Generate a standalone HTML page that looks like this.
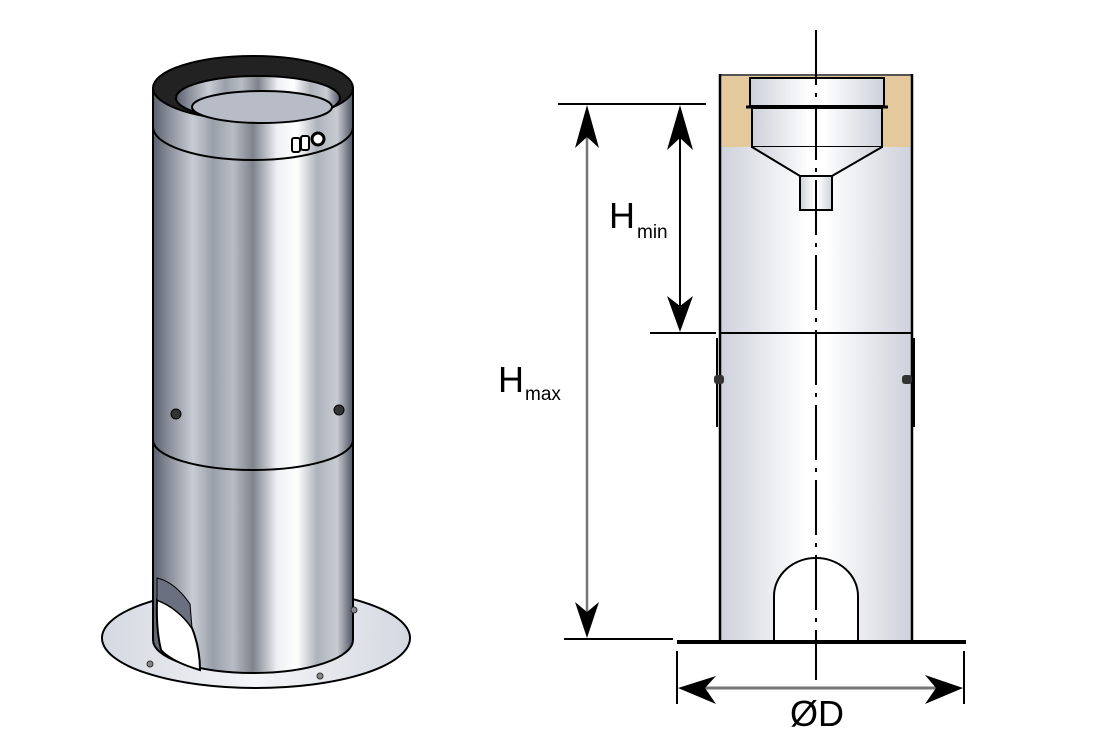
<!DOCTYPE html>
<html><head><meta charset="utf-8"><style>
html,body{margin:0;padding:0;background:#fff}
svg{display:block}
text{font-family:"Liberation Sans",sans-serif;fill:#000}
</style></head><body>
<svg width="1100" height="750" viewBox="0 0 1100 750" xmlns="http://www.w3.org/2000/svg">
<defs>
<linearGradient id="steel" x1="0" x2="1" y1="0" y2="0">
<stop offset="0" stop-color="#5a606e"/>
<stop offset="0.08" stop-color="#8a8f9a"/>
<stop offset="0.2" stop-color="#c8ccd4"/>
<stop offset="0.3" stop-color="#9aa0aa"/>
<stop offset="0.4" stop-color="#b8bcc4"/>
<stop offset="0.5" stop-color="#7e838c"/>
<stop offset="0.62" stop-color="#eef0f4"/>
<stop offset="0.72" stop-color="#ffffff"/>
<stop offset="0.82" stop-color="#aeb3bc"/>
<stop offset="0.92" stop-color="#c8ccd2"/>
<stop offset="1" stop-color="#4e5462"/>
</linearGradient>
<linearGradient id="pale" x1="0" x2="1" y1="0" y2="0">
<stop offset="0" stop-color="#cdd1da"/>
<stop offset="0.45" stop-color="#ffffff"/>
<stop offset="0.55" stop-color="#ffffff"/>
<stop offset="1" stop-color="#cdd1da"/>
</linearGradient>
<linearGradient id="flange" x1="0" x2="1" y1="0" y2="0">
<stop offset="0" stop-color="#d4d8e0"/><stop offset="0.5" stop-color="#f4f5f8"/><stop offset="1" stop-color="#d4d8e0"/>
</linearGradient>
</defs>

<!-- LEFT: 3D render -->
<ellipse cx="256" cy="638" rx="154" ry="50" fill="url(#flange)" stroke="#000" stroke-width="2"/>
<path d="M153 88 L153 640 A100 33 0 0 0 353 640 L353 88 Z" fill="url(#steel)" stroke="#000" stroke-width="2"/>
<!-- opening -->
<path d="M157 600 Q178 608 192 628 Q200 648 200 670 Q172 662 161 650 Q156 630 157 600 Z" fill="#fff" stroke="#000" stroke-width="2"/>
<path d="M157 600 Q178 608 192 628 L190 604 Q175 582 157 578 Z" fill="#6a7080" stroke="#000" stroke-width="1"/>
<!-- sleeve lower edge -->
<path d="M153 440 A100 30 0 0 0 353 440" fill="none" stroke="#000" stroke-width="2"/>
<!-- band line -->
<path d="M153 127 A100 33 0 0 0 353 127" fill="none" stroke="#000" stroke-width="2"/>
<!-- top -->
<ellipse cx="253" cy="88" rx="100" ry="32" fill="#222" stroke="#000" stroke-width="2"/>
<ellipse cx="258" cy="98" rx="82" ry="22" fill="url(#steel)" stroke="#000" stroke-width="2"/>
<ellipse cx="262" cy="107" rx="70" ry="16" fill="#b7bcc6" stroke="#000" stroke-width="2"/>
<!-- clip -->
<rect x="292" y="138" width="8" height="14" rx="2" fill="#fff" stroke="#000" stroke-width="2"/>
<rect x="301" y="136" width="8" height="14" rx="2" fill="#fff" stroke="#000" stroke-width="2"/>
<circle cx="318" cy="139" r="6" fill="#fff" stroke="#000" stroke-width="3"/>
<!-- screws -->
<circle cx="176" cy="414" r="5" fill="#333" stroke="#000"/>
<circle cx="339" cy="410" r="5" fill="#333" stroke="#000"/>
<circle cx="150" cy="664" r="3" fill="#888" stroke="#333"/>
<circle cx="320" cy="676" r="3" fill="#888" stroke="#333"/>
<circle cx="354" cy="610" r="3" fill="#888" stroke="#333"/>

<!-- RIGHT: section -->
<rect x="720" y="147" width="192" height="494" fill="url(#pale)"/>
<rect x="720" y="74" width="192" height="73" fill="#e4c99c"/>
<rect x="750" y="78" width="134" height="28" fill="url(#pale)" stroke="#000" stroke-width="2"/>
<rect x="752" y="108" width="130" height="39" fill="url(#pale)" stroke="#000" stroke-width="2"/>
<line x1="746" y1="107" x2="888" y2="107" stroke="#000" stroke-width="3"/>
<path d="M752 147 L800 176 L832 176 L882 147" fill="url(#pale)" stroke="#000" stroke-width="2"/>
<rect x="800" y="176" width="32" height="34" fill="url(#pale)" stroke="#000" stroke-width="2"/>
<line x1="720" y1="75" x2="912" y2="75" stroke="#555" stroke-width="2"/>
<line x1="720" y1="74" x2="720" y2="641" stroke="#000" stroke-width="2.5"/>
<line x1="912" y1="74" x2="912" y2="641" stroke="#000" stroke-width="2.5"/>
<line x1="720" y1="333" x2="912" y2="333" stroke="#000" stroke-width="2"/>
<line x1="717" y1="338" x2="717" y2="427" stroke="#000" stroke-width="2"/>
<line x1="914" y1="338" x2="914" y2="427" stroke="#000" stroke-width="2"/>
<rect x="714" y="375" width="10" height="9" rx="3" fill="#333"/>
<rect x="902" y="375" width="10" height="9" rx="3" fill="#333"/>
<!-- arch -->
<path d="M774 641 L774 596 A42 38 0 0 1 858 596 L858 641" fill="#fff" stroke="#000" stroke-width="2"/>
<!-- centerline -->
<line x1="816" y1="30" x2="816" y2="680" stroke="#000" stroke-width="2" stroke-dasharray="55,8,4,8"/>
<!-- base -->
<line x1="677" y1="642" x2="966" y2="642" stroke="#000" stroke-width="4"/>
<!-- ØD -->
<line x1="677" y1="651" x2="677" y2="704" stroke="#000" stroke-width="2"/>
<line x1="964" y1="651" x2="964" y2="704" stroke="#000" stroke-width="2"/>
<line x1="690" y1="688" x2="952" y2="688" stroke="#777" stroke-width="3"/>
<path d="M678 688 L716 676 L705 688 L716 704 Z" fill="#000"/>
<path d="M963 688 L925 675 L936 688 L925 704 Z" fill="#000"/>
<text x="817" y="726" font-size="36" text-anchor="middle">ØD</text>
<!-- Hmax -->
<line x1="558" y1="104" x2="706" y2="104" stroke="#000" stroke-width="2"/>
<line x1="564" y1="639" x2="673" y2="639" stroke="#000" stroke-width="2"/>
<line x1="587" y1="115" x2="587" y2="628" stroke="#777" stroke-width="2.5"/>
<path d="M587 105 L575 148 L587 137 L599 148 Z" fill="#000"/>
<path d="M587 638 L575 602 L587 612 L599 602 Z" fill="#000"/>
<text x="498" y="392" font-size="36">H</text>
<text x="525" y="400" font-size="19">max</text>
<!-- Hmin -->
<line x1="650" y1="333" x2="716" y2="333" stroke="#000" stroke-width="2"/>
<line x1="680" y1="115" x2="680" y2="322" stroke="#000" stroke-width="2"/>
<path d="M680 105 L667 150 L680 138 L693 150 Z" fill="#000"/>
<path d="M680 332 L667 296 L680 306 L693 296 Z" fill="#000"/>
<text x="609" y="228" font-size="36">H</text>
<text x="637" y="238" font-size="19">min</text>
</svg>
</body></html>
